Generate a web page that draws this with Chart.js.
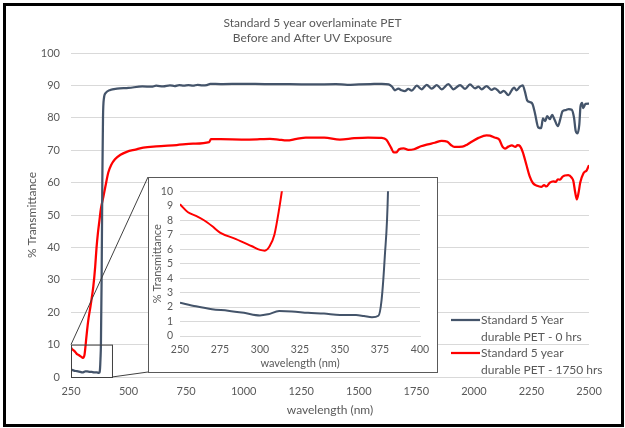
<!DOCTYPE html>
<html>
<head>
<meta charset="utf-8">
<script src="https://cdn.jsdelivr.net/npm/chart.js@4/dist/chart.umd.min.js"></script>
<style>
  html, body { margin: 0; padding: 0; background: #fff; }
  #wrap { position: relative; width: 625px; height: 428px; }
  #mainChart { position: absolute; left: 0; top: 0; }
  #insetBox { position: absolute; left: 148px; top: 177px; width: 290px; height: 196px;
              box-sizing: border-box; border: 1px solid #595959; background: #fff; }
  #insetChart { position: absolute; left: 0; top: 0; }
  #frame { position: absolute; left: 3px; top: 3px; width: 621px; height: 424px;
           box-sizing: border-box; border: 3px solid #000; pointer-events: none; }
</style>
</head>
<body>
<div id="wrap">
  <canvas id="mainChart" width="625" height="428"></canvas>
  <div id="insetBox"><canvas id="insetChart" width="288" height="194"></canvas></div>
  <div id="frame"></div>
</div>
<script>
// titres et libellés
const chartTitle = ['Standard 5 year overlaminate PET', 'Before and After UV Exposure'];
const seriesNames = [['Standard 5 Year', 'durable PET - 0 hrs'], ['Standard 5 year', 'durable PET - 1750 hrs']];
const seriesColors = ['#44546A', '#FF0000'];

// Standard 5 Year durable PET - 0 hrs
const wlBefore = [250, 260, 270, 280, 290, 300, 305, 312, 320, 330, 340, 350, 360, 365, 370, 374, 376, 378, 380, 383, 386, 389, 393, 400,
    420, 450, 500, 560, 600, 620, 650, 680, 700, 720, 740, 760, 780, 800, 820, 840, 855, 900, 1000, 1100, 1200, 1300, 1400, 1450,
    1500, 1550, 1600, 1630, 1645, 1657, 1672, 1685, 1700, 1715, 1730, 1752, 1773, 1795, 1817, 1839, 1860, 1889, 1911, 1940, 1962,
    1983, 2005, 2020, 2034, 2055, 2077, 2090, 2105, 2114, 2130, 2150, 2165, 2175, 2185, 2200, 2212, 2222, 2232, 2245, 2255, 2265,
    2280, 2292, 2300, 2310, 2318, 2330, 2340, 2350, 2365, 2375, 2385, 2400, 2412, 2425, 2435, 2442, 2450, 2458, 2463, 2470, 2475,
    2485, 2500];
const tBefore = [2.3, 2.05, 1.85, 1.75, 1.6, 1.42, 1.5, 1.72, 1.7, 1.6, 1.55, 1.45, 1.45, 1.38, 1.3, 1.4, 2.5, 5.5, 10, 30, 60, 80, 86, 87.6,
    88.6, 89.0, 89.2, 89.7, 89.6, 89.9, 89.7, 90.0, 89.8, 90.1, 89.9, 90.1, 89.9, 90.2, 90.0, 90.1, 90.5, 90.4, 90.5, 90.4, 90.4, 90.3, 90.4, 90.2,
    90.3, 90.4, 90.5, 90.3, 89.6, 88.5, 89.0, 88.5, 88.2, 88.9, 88.4, 89.9, 88.8, 90.2, 89.0, 90.1, 88.8, 90.4, 88.8, 90.1, 88.9,
    90.3, 89.1, 89.6, 88.8, 89.8, 88.6, 89.1, 88.4, 87.7, 88.3, 87.0, 88.6, 89.3, 88.5, 89.6, 90.0, 88.0, 85.3, 84.8, 84.2, 81.5,
    77.0, 76.8, 79.8, 79.0, 80.5, 79.6, 80.9, 79.5, 77.4, 79.5, 82.0, 82.4, 82.7, 82.5, 80.0, 76.0, 75.2, 78.0, 83.5, 84.6, 83.0,
    84.3, 84.4];

// Standard 5 year durable PET - 1750 hrs
const wlAfter = [250, 255, 260, 265, 270, 275, 285, 295, 300, 303, 306, 309, 312, 315, 320, 325, 335, 347, 355, 361, 367, 373, 380, 390,
    400, 412, 425, 441, 465, 492, 530, 564, 620, 709, 780, 850, 858, 900, 1000, 1071, 1114, 1150, 1187, 1230, 1270, 1350, 1418,
    1480, 1540, 1600, 1620, 1640, 1652, 1662, 1675, 1695, 1715, 1740, 1770, 1800, 1830, 1860, 1885, 1900, 1915, 1950, 1970, 1990,
    2020, 2055, 2070, 2090, 2110, 2125, 2135, 2150, 2165, 2180, 2190, 2200, 2212, 2228, 2242, 2257, 2275, 2292, 2305, 2315, 2330,
    2345, 2355, 2365, 2374, 2385, 2395, 2410, 2425, 2432, 2440, 2447, 2455, 2462, 2476, 2490, 2500];
const tAfter = [9.1, 8.55, 8.3, 8.0, 7.6, 7.15, 6.7, 6.2, 5.95, 5.9, 6.2, 7.0, 8.8, 11, 14.5, 17.5, 22, 28, 34, 40, 44.5, 48, 52, 55.4,
    59, 63.1, 65.5, 67.2, 68.6, 69.5, 70.2, 70.8, 71.2, 71.6, 72.0, 72.5, 73.4, 73.4, 73.3, 73.4, 73.5, 73.3, 73.0, 73.5, 73.9, 73.9, 73.3,
    73.7, 73.9, 73.8, 73.2, 70.8, 69.3, 69.3, 70.3, 70.6, 70.1, 70.3, 71.2, 71.8, 72.3, 72.9, 72.6, 71.6, 71.0, 71.1, 71.7, 72.6,
    73.8, 74.6, 74.5, 73.9, 73.3, 71.0, 70.5, 71.1, 71.5, 71.0, 71.6, 71.3, 69.5, 65.5, 62.0, 59.8, 59.0, 58.7, 59.2, 58.8, 60.0,
    60.4, 60.2, 61.0, 60.9, 61.8, 62.2, 62.3, 61.5, 60.5, 57.0, 54.8, 57.0, 60.0, 62.9, 63.8, 65.4];

// axes
const mainXTicks = [250, 2500, 250];   // min, max, pas
const mainYTicks = [0, 100, 10];
const insetXTicks = [250, 400, 25];
const insetYTicks = [0, 10, 1];
const zoomBox = [250, 428, 0, 10];     // zone agrandie : x1, x2, y1, y2

const font = 'Lato';
const textColor = '#595959';
const gridColor = '#d9d9d9';

function toPoints(xs, ys) {
    return xs.map((x, i) => ({ x: x, y: ys[i] }));
}

function makeDatasets(width) {
    return [
        { label: seriesNames[0].join(' '), data: toPoints(wlBefore, tBefore), borderColor: seriesColors[0],
          borderWidth: width, pointRadius: 0, cubicInterpolationMode: 'monotone' },
        { label: seriesNames[1].join(' '), data: toPoints(wlAfter, tAfter), borderColor: seriesColors[1],
          borderWidth: width, pointRadius: 0, cubicInterpolationMode: 'monotone' }
    ];
}

// rectangle de zoom, traits de liaison et légende
const extrasPlugin = {
    id: 'extras',
    afterDatasetsDraw(chart) {
        const { ctx, scales: { x, y } } = chart;
        const x1 = x.getPixelForValue(zoomBox[0]), x2 = x.getPixelForValue(zoomBox[1]);
        const y1 = y.getPixelForValue(zoomBox[3]), y2 = y.getPixelForValue(zoomBox[2]);
        const box = document.getElementById('insetBox');
        const bx = box.offsetLeft, by = box.offsetTop, bh = box.offsetHeight;
        ctx.save();
        ctx.strokeStyle = '#404040';
        ctx.lineWidth = 1;
        ctx.strokeRect(x1 + 0.5, y1 + 0.5, x2 - x1, y2 - y1);
        ctx.beginPath();
        ctx.moveTo(x1, y1);
        ctx.lineTo(bx, by);
        ctx.moveTo(x2, y2);
        ctx.lineTo(bx, by + bh - 1);
        ctx.stroke();

        // légende
        const lx = 451, ly = [320, 353];
        ctx.font = '12px ' + font;
        ctx.textBaseline = 'middle';
        ctx.textAlign = 'left';
        seriesNames.forEach((lines, i) => {
            ctx.strokeStyle = seriesColors[i];
            ctx.lineWidth = 2.25;
            ctx.beginPath();
            ctx.moveTo(lx, ly[i]);
            ctx.lineTo(lx + 29, ly[i]);
            ctx.stroke();
            ctx.fillStyle = textColor;
            lines.forEach((t, j) => ctx.fillText(t, lx + 30, ly[i] + j * 17));
        });
        ctx.restore();
    }
};

const plainLabel = (value) => String(value);

const mainChart = new Chart(document.getElementById('mainChart'), {
    type: 'line',
    data: { datasets: makeDatasets(2.25) },
    options: {
        responsive: false,
        animation: false,
        layout: { padding: { left: 6, right: 6, top: 4, bottom: 6 } },
        plugins: {
            legend: { display: false },
            tooltip: { enabled: false },
            title: {
                display: true,
                text: chartTitle,
                color: textColor,
                font: { family: font, size: 12, weight: 'normal', lineHeight: 1.25 },
                padding: { top: 12, bottom: 7 }
            }
        },
        scales: {
            x: {
                type: 'linear',
                min: mainXTicks[0], max: mainXTicks[1],
                afterFit(scale) { scale.height = 45; },
                grid: { display: false, drawTicks: false },
                border: { color: gridColor },
                ticks: { stepSize: mainXTicks[2], color: textColor, padding: 8, maxRotation: 0, autoSkip: false,
                         callback: plainLabel, font: { family: font, size: 11 } },
                title: { display: true, text: 'wavelength (nm)', color: textColor,
                         font: { family: font, size: 12 }, padding: { top: 0, bottom: 5 } }
            },
            y: {
                min: mainYTicks[0], max: mainYTicks[1],
                afterFit(scale) { scale.width = 65; },
                grid: { color: gridColor, drawTicks: false },
                border: { display: false },
                ticks: { stepSize: mainYTicks[2], color: textColor, padding: 11, autoSkip: false,
                         font: { family: font, size: 11 } },
                title: { display: true, text: '% Transmittance', color: textColor,
                         font: { family: font, size: 12 }, padding: { top: 19, bottom: 0 } }
            },
            // marge droite vide, pour centrer le titre sur toute la largeur
            yRight: {
                position: 'right',
                afterFit(scale) { scale.width = 30; },
                grid: { display: false, drawTicks: false },
                border: { display: false },
                ticks: { display: false }
            }
        }
    },
    plugins: [extrasPlugin]
});

const insetChart = new Chart(document.getElementById('insetChart'), {
    type: 'line',
    data: { datasets: makeDatasets(2) },
    options: {
        responsive: false,
        animation: false,
        layout: { padding: { left: 2, right: 17, top: 10, bottom: 2 } },
        plugins: {
            legend: { display: false },
            tooltip: { enabled: false },
            title: { display: false }
        },
        scales: {
            x: {
                type: 'linear',
                min: insetXTicks[0], max: insetXTicks[1],
                afterFit(scale) { scale.height = 34; },
                grid: { display: false, drawTicks: false },
                border: { color: gridColor },
                ticks: { stepSize: insetXTicks[2], color: textColor, padding: 7, maxRotation: 0, autoSkip: false,
                         callback: plainLabel, font: { family: font, size: 10.5 } },
                title: { display: true, text: 'wavelength (nm)', color: textColor,
                         font: { family: font, size: 11 }, padding: 0 }
            },
            y: {
                min: insetYTicks[0], max: insetYTicks[1],
                afterFit(scale) { scale.width = 29; },
                grid: { color: gridColor, drawTicks: false },
                border: { display: false },
                ticks: { stepSize: insetYTicks[2], color: textColor, padding: 7, autoSkip: false,
                         font: { family: font, size: 10.5 } },
                title: { display: true, text: '% Transmittance', color: textColor,
                         font: { family: font, size: 11 }, padding: 0 }
            }
        }
    }
});
</script>
</body>
</html>
